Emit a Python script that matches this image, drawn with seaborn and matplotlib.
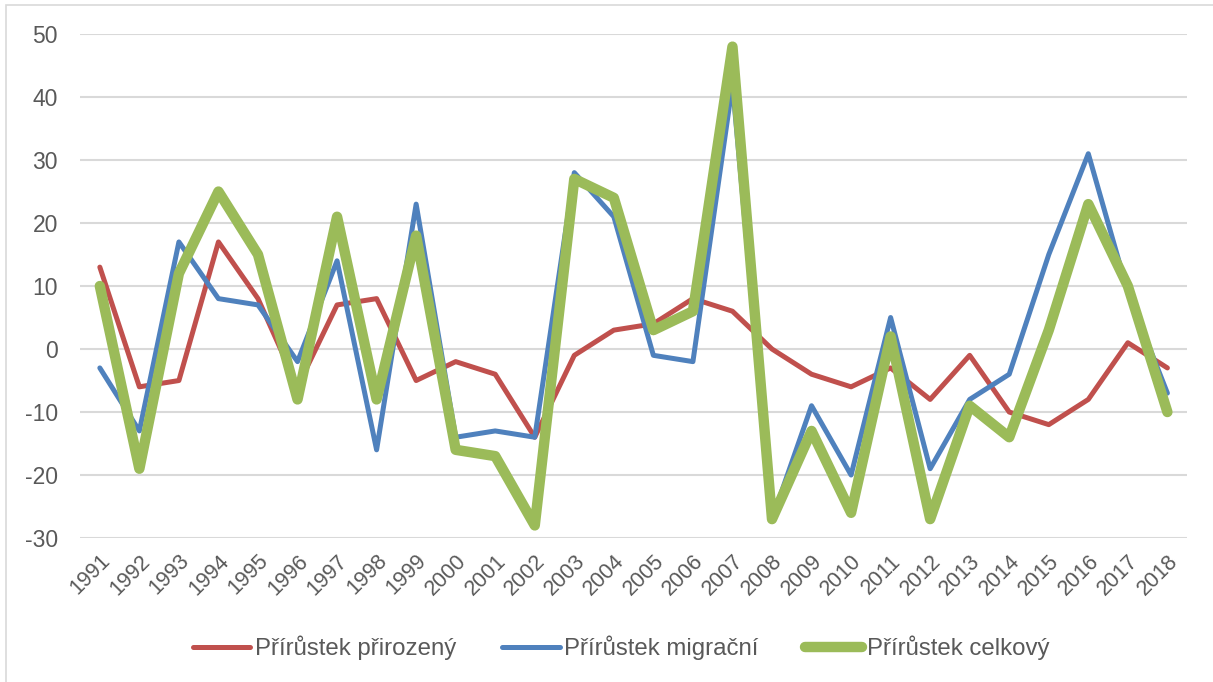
import pandas as pd
import matplotlib.pyplot as plt
import seaborn as sb
from matplotlib.patches import Rectangle

# data
years = list(range(1991, 2019))
natural = [13, -6, -5, 17, 8, -6, 7, 8, -5, -2, -4, -14, -1, 3, 4, 8, 6, 0, -4, -6,
           -3, -8, -1, -10, -12, -8, 1, -3]
migration = [-3, -13, 17, 8, 7, -2, 14, -16, 23, -14, -13, -14, 28, 21, -1, -2, 42, -27, -9, -20,
             5, -19, -8, -4, 15, 31, 9, -7]
total = [10, -19, 12, 25, 15, -8, 21, -8, 18, -16, -17, -28, 27, 24, 3, 6, 48, -27, -13, -26,
         2, -27, -9, -14, 3, 23, 10, -10]

series_names = ["Přírůstek přirozený", "Přírůstek migrační", "Přírůstek celkový"]
colors = ["#C0504D", "#4F81BD", "#9BBB59"]
widths = [3.6, 3.6, 7.5]

df = pd.DataFrame({"idx": range(len(years)), "year": years,
                   series_names[0]: natural, series_names[1]: migration, series_names[2]: total})
df_long = df.melt(id_vars=["idx", "year"], var_name="serie", value_name="value")

sb.set_style("white")
plt.rcParams['font.family'] = ['Liberation Sans', 'DejaVu Sans']
plt.rcParams['axes.unicode_minus'] = False

fig = plt.figure(figsize=(12.13, 6.82), dpi=100)
ax = fig.add_axes([0.066, 0.2111, 0.9127, 0.739])

for name, col, lw in zip(series_names, colors, widths):
    sb.lineplot(data=df_long[df_long["serie"] == name], x="idx", y="value", color=col,
                linewidth=lw, label=name, ax=ax, sort=False,
                solid_capstyle="round", solid_joinstyle="round")

ax.set_xlim(-0.5, len(years) - 0.5)
ax.set_ylim(-30, 50)
ax.set_yticks(range(-30, 51, 10))
ax.set_xticks(df["idx"])
ax.set_xticklabels(years, rotation=45, ha="right", rotation_mode="anchor")
ax.set_xlabel("")
ax.set_ylabel("")
ax.grid(axis="y", color="#D9D9D9", linewidth=1.5)
ax.set_axisbelow(True)
for s in ax.spines.values():
    s.set_visible(False)
ax.tick_params(axis="y", length=0, pad=16, labelsize=16.5, labelcolor="#595959")
ax.tick_params(axis="x", length=0, pad=9, labelsize=15.5, labelcolor="#595959")

leg = ax.legend(loc="center", bbox_to_anchor=(0.512, 0.05), bbox_transform=fig.transFigure,
                ncol=3, frameon=False, fontsize=17.3, handlelength=2.4, handletextpad=0.2,
                columnspacing=1.9)
for t in leg.get_texts():
    t.set_color("#595959")

# outer chart frame
fig.patches.append(Rectangle((6 / 1213, -0.05), 1.2, 1 - 5 / 682 + 0.05, transform=fig.transFigure,
                             fill=False, edgecolor="#D9D9D9", linewidth=1.2))

fig.savefig("out.png", dpi=100)
